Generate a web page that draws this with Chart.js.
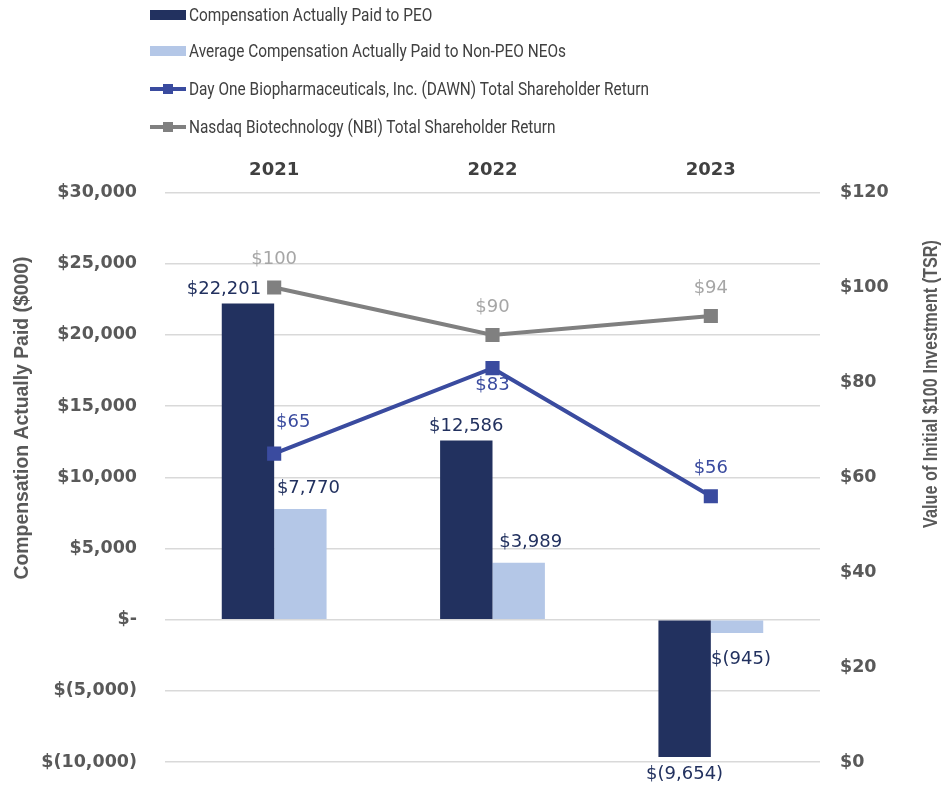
<!DOCTYPE html>
<html>
<head>
<meta charset="utf-8">
<script src="https://cdn.jsdelivr.net/npm/chart.js@4.4.0/dist/chart.umd.min.js"></script>
<style>
  html, body { margin: 0; padding: 0; background: #fff; }
  #wrap { position: relative; width: 945px; height: 788px; }
  #legend { position: absolute; left: 150px; top: 0; font-family: Roboto, 'Liberation Sans', sans-serif; font-size: 17.5px; color: #404040; }
  .item { position: absolute; left: 0; height: 22px; display: flex; align-items: center; white-space: nowrap; }
  .item span { display: inline-block; transform: scaleX(0.88); transform-origin: left center; }
  .swatch { position: relative; width: 36px; height: 22px; margin-right: 3px; }
  .bar { position: absolute; left: 0; top: 6px; width: 36px; height: 10px; }
  .line { position: absolute; left: 0; top: 9px; width: 36px; height: 4px; }
  .mark { position: absolute; left: 13px; top: 6px; width: 10px; height: 10px; }
</style>
</head>
<body>
<div id="wrap">
  <canvas id="capChart" width="945" height="788"></canvas>
  <div id="legend"></div>
</div>
<script>
// Data
const years = ['2021', '2022', '2023'];
const peoCap = [22201, 12586, -9654];
const neoCap = [7770, 3989, -945];
const dawnTsr = [65, 83, 56];
const nbiTsr = [100, 90, 94];

const seriesNames = [
  'Compensation Actually Paid to PEO',
  'Average Compensation Actually Paid to Non-PEO NEOs',
  'Day One Biopharmaceuticals, Inc. (DAWN) Total Shareholder Return',
  'Nasdaq Biotechnology (NBI) Total Shareholder Return'
];

const NAVY = '#22315f';
const LIGHT = '#b4c7e7';
const BLUE = '#3a4b9f';
const GRAY = '#808080';

const tickFont = { family: "'DejaVu Sans', sans-serif", size: 17.5, weight: 'bold' };
const labelFont = "18px 'DejaVu Sans', sans-serif";

function money(v) {
  if (v === 0) return '$-';
  const s = Math.abs(v).toLocaleString('en-US');
  return v < 0 ? '$(' + s + ')' : '$' + s;
}

// value labels next to bars and points
const dataLabels = {
  id: 'dataLabels',
  afterDatasetsDraw(chart) {
    const ctx = chart.ctx;
    ctx.save();
    ctx.font = labelFont;
    ctx.textAlign = 'center';
    ctx.textBaseline = 'middle';
    chart.data.datasets.forEach((ds, i) => {
      const meta = chart.getDatasetMeta(i);
      const lbl = ds.valueLabel;
      ctx.fillStyle = lbl.color;
      meta.data.forEach((el, j) => {
        const v = ds.data[j];
        let x = el.x, y = el.y;
        if (ds.type === 'bar') {
          x += lbl.dx[j];
          y += v >= 0 ? -lbl.up : lbl.down;
        } else {
          const p = lbl.place[j];
          if (p === 'above') y -= 28;
          else if (p === 'below') y += 17;
          else if (p === 'aboveRight') { x += 19; y -= 31; }
        }
        ctx.fillText(money(v), x, y);
      });
    });
    ctx.restore();
  }
};

// axis titles, squeezed to mimic the condensed face; right one reads bottom to top
function drawTitle(ctx, text, cx, cy, width) {
  ctx.save();
  ctx.font = "bold 20px 'Liberation Sans', sans-serif";
  ctx.fillStyle = '#595959';
  ctx.textAlign = 'center';
  ctx.textBaseline = 'middle';
  ctx.translate(cx, cy);
  ctx.rotate(-Math.PI / 2);
  const w = ctx.measureText(text).width;
  ctx.scale(width / w, 1);
  ctx.fillText(text, 0, 0);
  ctx.restore();
}
const axisTitles = {
  id: 'axisTitles',
  afterDraw(chart) {
    drawTitle(chart.ctx, 'Compensation Actually Paid ($000)', 22, 418, 323);
    drawTitle(chart.ctx, 'Value of Initial $100 Investment (TSR)', 931, 384, 288);
  }
};

// fixed axis widths; drop the extra vertical padding Chart.js adds from ticks.padding
function fixAxis(width) {
  return function (s) {
    s.width = width;
    s.paddingTop = 0;
    s.paddingBottom = 0;
  };
}

const ctx = document.getElementById('capChart');
const chart = new Chart(ctx, {
  data: {
    labels: years,
    datasets: [
      {
        type: 'line', label: seriesNames[2], data: dawnTsr, yAxisID: 'y1', order: 0,
        borderColor: BLUE, backgroundColor: BLUE, borderWidth: 4, tension: 0,
        pointStyle: 'rect', pointRadius: 10, pointBorderWidth: 0, pointBackgroundColor: BLUE,
        valueLabel: { color: BLUE, place: ['aboveRight', 'below', 'above'] }
      },
      {
        type: 'line', label: seriesNames[3], data: nbiTsr, yAxisID: 'y1', order: 0,
        borderColor: GRAY, backgroundColor: GRAY, borderWidth: 4, tension: 0,
        pointStyle: 'rect', pointRadius: 10, pointBorderWidth: 0, pointBackgroundColor: GRAY,
        valueLabel: { color: '#a6a6a6', place: ['above', 'above', 'above'] }
      },
      {
        type: 'bar', label: seriesNames[0], data: peoCap, yAxisID: 'y', order: 1,
        backgroundColor: NAVY, categoryPercentage: 0.48, barPercentage: 1,
        valueLabel: { color: NAVY, dx: [-24, 0, 0], up: 14, down: 17 }
      },
      {
        type: 'bar', label: seriesNames[1], data: neoCap, yAxisID: 'y', order: 1,
        backgroundColor: LIGHT, categoryPercentage: 0.48, barPercentage: 1,
        valueLabel: { color: NAVY, dx: [8, 12, 4], up: 21, down: 26 }
      }
    ]
  },
  options: {
    responsive: false,
    animation: false,
    layout: { padding: { top: 149, bottom: 26, left: 0, right: 0 } },
    plugins: {
      legend: { display: false },
      tooltip: { enabled: false }
    },
    scales: {
      x: {
        position: 'top',
        grid: { display: false, drawTicks: false },
        border: { display: false },
        ticks: { padding: 11, color: '#404040', font: { family: "'DejaVu Sans', sans-serif", size: 18, weight: 'bold' } }
      },
      y: {
        position: 'left',
        min: -10000, max: 30000,
        grid: { color: '#d9d9d9', lineWidth: 1.5, drawTicks: false },
        border: { display: false },
        ticks: { stepSize: 5000, padding: 28, color: '#595959', font: tickFont, callback: v => money(v) },
        afterFit: fixAxis(165)
      },
      y1: {
        position: 'right',
        min: 0, max: 120,
        grid: { display: false, drawTicks: false },
        border: { display: false },
        ticks: { stepSize: 20, padding: 20, color: '#595959', font: tickFont, callback: v => '$' + v },
        afterFit: fixAxis(125)
      }
    }
  },
  plugins: [dataLabels, axisTitles]
});

// HTML legend, one entry per row
const legendItems = [
  { name: seriesNames[0], kind: 'bar', color: NAVY },
  { name: seriesNames[1], kind: 'bar', color: LIGHT },
  { name: seriesNames[2], kind: 'line', color: BLUE },
  { name: seriesNames[3], kind: 'line', color: GRAY }
];
const rowTops = [4, 40, 78, 116];
const legend = document.getElementById('legend');
legendItems.forEach((it, i) => {
  const row = document.createElement('div');
  row.className = 'item';
  row.style.top = rowTops[i] + 'px';
  const sw = document.createElement('div');
  sw.className = 'swatch';
  if (it.kind === 'bar') {
    sw.innerHTML = '<div class="bar" style="background:' + it.color + '"></div>';
  } else {
    sw.innerHTML = '<div class="line" style="background:' + it.color + '"></div>' +
      '<div class="mark" style="background:' + it.color + '"></div>';
  }
  const txt = document.createElement('span');
  txt.textContent = it.name;
  row.appendChild(sw);
  row.appendChild(txt);
  legend.appendChild(row);
});
</script>
</body>
</html>
